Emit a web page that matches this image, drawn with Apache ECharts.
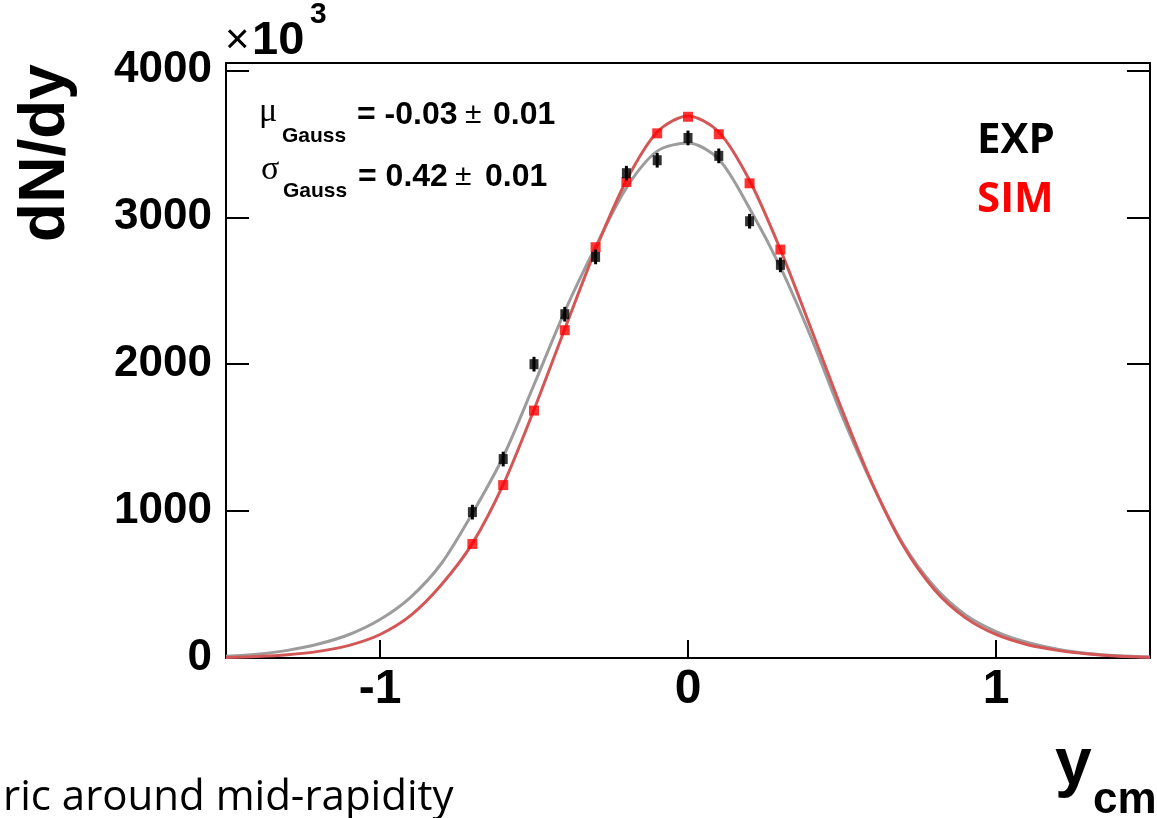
<!DOCTYPE html>
<html><head><meta charset="utf-8">
<script src="https://cdn.jsdelivr.net/npm/echarts@6/dist/echarts.min.js"></script>
<style>html,body{margin:0;padding:0;background:#fff}#c{width:1157px;height:818px}</style>
</head><body><div id="c"></div>
<script>
// measured points (rapidity bins)
const xPoints = [-0.7, -0.6, -0.5, -0.4, -0.3, -0.2, -0.1, 0.0, 0.1, 0.2, 0.3];
const expValues = [993, 1354, 2000, 2340, 2730, 3300, 3388, 3540, 3418, 2973, 2676];
const expErrors = [50, 50, 50, 50, 50, 50, 50, 50, 50, 50, 50];
const simValues = [776, 1177, 1684, 2231, 2796, 3240, 3571, 3684, 3565, 3231, 2780];
// fit curves
const curveX = [-1.5, -1.4, -1.3, -1.2, -1.1, -1.0, -0.9, -0.8, -0.7, -0.6, -0.5, -0.4, -0.3, -0.2, -0.1, 0.0,
                0.1, 0.2, 0.3, 0.4, 0.5, 0.6, 0.7, 0.8, 0.9, 1.0, 1.1, 1.2, 1.3, 1.4, 1.5];
const expFit = [12, 26, 52, 95, 160, 262, 415, 645, 985, 1370, 1860, 2360, 2800, 3200, 3450, 3505,
                3395, 3060, 2660, 2180, 1650, 1175, 770, 485, 295, 180, 107, 60, 31, 15, 6];
const simFit = [4, 10, 22, 45, 86, 160, 290, 500, 780, 1180, 1690, 2240, 2780, 3250, 3580, 3690,
                3580, 3250, 2780, 2240, 1690, 1180, 760, 465, 275, 160, 92, 52, 27, 12, 5];
const yTicks = [0, 1000, 2000, 3000, 4000];
const xTicks = [-1, 0, 1];

const chart = echarts.init(document.getElementById('c'), null, {renderer: 'canvas'});
const AX = '#000';
const sans = 'Liberation Sans, Arial, sans-serif';
const bodyFont = 'Open Sans, sans-serif';

function pairs(xs, ys) { return xs.map((x, i) => [x, ys[i]]); }

const option = {
  backgroundColor: '#fff',
  animation: false,
  grid: {left: 226, right: 7, top: 63, bottom: 160, containLabel: false},
  xAxis: [{
    type: 'value', min: -1.5, max: 1.5, position: 'bottom',
    axisLine: {onZero: false, lineStyle: {color: AX, width: 2}},
    axisTick: {show: true, inside: true, length: 18, customValues: xTicks, lineStyle: {color: AX, width: 2}},
    axisLabel: {customValues: xTicks, fontSize: 48, fontWeight: 'bold', color: AX, fontFamily: sans, margin: 8,
                formatter: v => String(v)},
    splitLine: {show: false}
  }, {
    type: 'value', min: -1.5, max: 1.5, position: 'top',
    axisLine: {onZero: false, lineStyle: {color: AX, width: 2}},
    axisTick: {show: false}, axisLabel: {show: false}, splitLine: {show: false}
  }],
  yAxis: [{
    type: 'value', min: 0, max: 4050, position: 'left',
    axisLine: {show: true, onZero: false, lineStyle: {color: AX, width: 2}},
    axisTick: {show: true, inside: true, length: 23, customValues: yTicks, lineStyle: {color: AX, width: 2}},
    axisLabel: {customValues: yTicks, fontSize: 44, fontWeight: 'bold', color: AX, fontFamily: sans, margin: 14,
                formatter: v => String(v)},
    splitLine: {show: false}
  }, {
    type: 'value', min: 0, max: 4050, position: 'right',
    axisLine: {show: true, onZero: false, lineStyle: {color: AX, width: 2}},
    axisTick: {show: true, inside: true, length: 23, customValues: yTicks, lineStyle: {color: AX, width: 2}},
    axisLabel: {show: false}, splitLine: {show: false}
  }],
  series: [{
    name: 'EXP fit', type: 'line', data: pairs(curveX, expFit), showSymbol: false, smooth: 0.3,
    lineStyle: {color: '#9c9c9c', width: 3}, z: 2, silent: true
  }, {
    name: 'SIM fit', type: 'line', data: pairs(curveX, simFit), showSymbol: false, smooth: 0.3,
    lineStyle: {color: '#d45757', width: 3}, z: 3, silent: true
  }, {
    name: 'SIM', type: 'scatter', data: pairs(xPoints, simValues), symbol: 'rect', symbolSize: [10, 10],
    itemStyle: {color: '#ff0000'}, z: 4
  }, {
    name: 'EXP err', type: 'custom', z: 5,
    data: xPoints.map((x, i) => [x, expValues[i], expErrors[i]]),
    renderItem: function (params, api) {
      const x = api.value(0), y = api.value(1), e = api.value(2);
      const p1 = api.coord([x, y - e]), p2 = api.coord([x, y + e]);
      return {type: 'line', shape: {x1: p1[0], y1: p1[1], x2: p2[0], y2: p2[1]},
              style: {stroke: '#000', lineWidth: 3}};
    }
  }, {
    name: 'EXP', type: 'scatter', data: pairs(xPoints, expValues), symbol: 'rect', symbolSize: [9, 10],
    itemStyle: {color: '#000'}, z: 6
  }],
  graphic: [
    {type: 'text', x: 46, y: 153, rotation: Math.PI / 2,
     style: {text: 'dN/dy', font: 'bold 64px ' + sans, fill: '#000', align: 'center', verticalAlign: 'middle'}},
    {type: 'text', x: 225, y: 41,
     style: {text: '×', font: '42px ' + sans, fill: '#000', align: 'left', verticalAlign: 'middle'}},
    {type: 'text', x: 252, y: 41,
     style: {text: '10', font: 'bold 47px ' + sans, fill: '#000', align: 'left', verticalAlign: 'middle'}},
    {type: 'text', x: 310, y: 15,
     style: {text: '3', font: 'bold 30px ' + sans, fill: '#000', align: 'left', verticalAlign: 'middle'}},
    // fit parameters
    {type: 'text', x: 259, y: 112,
     style: {text: 'μ', font: '34px Liberation Serif, serif', fill: '#000', align: 'left', verticalAlign: 'middle'}},
    {type: 'text', x: 282, y: 136,
     style: {text: 'Gauss', font: 'bold 21px ' + sans, fill: '#000', align: 'left', verticalAlign: 'middle'}},
    {type: 'text', x: 357, y: 115,
     style: {text: '= -0.03', font: 'bold 32px ' + sans, fill: '#000', align: 'left', verticalAlign: 'middle'}},
    {type: 'text', x: 465, y: 115,
     style: {text: '±', font: '30px ' + sans, fill: '#000', align: 'left', verticalAlign: 'middle'}},
    {type: 'text', x: 493, y: 115,
     style: {text: '0.01', font: 'bold 32px ' + sans, fill: '#000', align: 'left', verticalAlign: 'middle'}},
    {type: 'text', x: 261, y: 170,
     style: {text: 'σ', font: '34px Liberation Serif, serif', fill: '#000', align: 'left', verticalAlign: 'middle'}},
    {type: 'text', x: 283, y: 191,
     style: {text: 'Gauss', font: 'bold 21px ' + sans, fill: '#000', align: 'left', verticalAlign: 'middle'}},
    {type: 'text', x: 358, y: 177,
     style: {text: '= 0.42', font: 'bold 32px ' + sans, fill: '#000', align: 'left', verticalAlign: 'middle'}},
    {type: 'text', x: 455, y: 177,
     style: {text: '±', font: '30px ' + sans, fill: '#000', align: 'left', verticalAlign: 'middle'}},
    {type: 'text', x: 485, y: 177,
     style: {text: '0.01', font: 'bold 32px ' + sans, fill: '#000', align: 'left', verticalAlign: 'middle'}},
    // legend
    {type: 'text', x: 977, y: 141,
     style: {text: 'EXP', font: 'bold 42px ' + bodyFont, fill: '#000', align: 'left', verticalAlign: 'middle'}},
    {type: 'text', x: 977, y: 200,
     style: {text: 'SIM', font: 'bold 42px ' + bodyFont, fill: '#ff0000', align: 'left', verticalAlign: 'middle'}},
    // x axis title
    {type: 'text', x: 1055, y: 766,
     style: {text: 'y', font: 'bold 66px ' + sans, fill: '#000', align: 'left', verticalAlign: 'middle'}},
    {type: 'text', x: 1093, y: 801,
     style: {text: 'cm', font: 'bold 44px ' + sans, fill: '#000', align: 'left', verticalAlign: 'middle'}},
    // slide text
    {type: 'text', x: 3, y: 798,
     style: {text: 'ric around mid-rapidity', font: '42px ' + bodyFont, fill: '#000', align: 'left', verticalAlign: 'middle'}}
  ]
};
chart.setOption(option);
</script>
</body></html>
